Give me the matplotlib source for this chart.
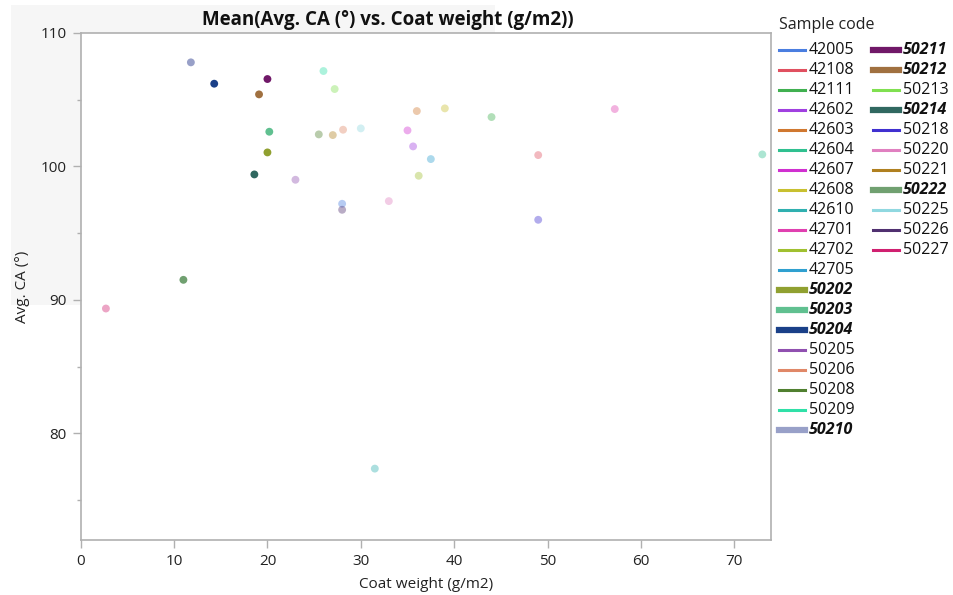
import matplotlib
matplotlib.use("Agg")
import matplotlib.pyplot as plt
from matplotlib.lines import Line2D
from matplotlib.patches import Rectangle
from matplotlib.ticker import MultipleLocator

plt.rcParams['font.family'] = ['Open Sans', 'DejaVu Sans']

# data: sample codes, coat weight (x), mean avg. CA (y)
codes = ["42005", "42108", "42111", "42602", "42603", "42604", "42607", "42608",
         "42610", "42701", "42702", "42705", "50202", "50203", "50204", "50205",
         "50206", "50208", "50209", "50210", "50211", "50212", "50213", "50214",
         "50218", "50220", "50221", "50222", "50225", "50226", "50227"]
coat_weight = [28.0, 49.0, 44.0, 35.6, 36.0, 73.0, 35.0, 39.0,
               31.5, 57.2, 36.2, 37.5, 20.0, 20.2, 14.3, 23.0,
               28.1, 25.5, 26.0, 11.8, 20.0, 19.1, 27.2, 18.6,
               49.0, 33.0, 27.0, 11.0, 30.0, 28.0, 2.7]
avg_ca = [97.2, 100.85, 103.7, 101.5, 104.15, 100.9, 102.7, 104.35,
          77.35, 104.3, 99.3, 100.55, 101.05, 102.6, 106.2, 99.0,
          102.75, 102.4, 107.15, 107.8, 106.55, 105.4, 105.8, 99.4,
          96.0, 97.4, 102.35, 91.5, 102.85, 96.75, 89.35]
colors = ["#4a7ee0", "#e05060", "#40b050", "#a040e0", "#d07830", "#30c090", "#d030d0", "#c8c030",
          "#30b0b0", "#e040b0", "#a0c030", "#30a0d0", "#90a030", "#60c090", "#1a4088", "#9050b0",
          "#e08868", "#508030", "#30e0a8", "#98a0c8", "#701868", "#a07040", "#80e050", "#306860",
          "#4030d0", "#e080c0", "#b08020", "#70a070", "#90d8e0", "#503070", "#d02070"]
selected = ["50202", "50203", "50204", "50210", "50211", "50212", "50214", "50222"]

W, H = 954, 595
fig = plt.figure(figsize=(W / 100, H / 100), dpi=100)

# light gray header panel behind the plot
fig.patches.append(Rectangle((11 / W, 1 - 305 / H), 484 / W, 300 / H,
                             transform=fig.transFigure, facecolor="#f6f6f6",
                             edgecolor="none", zorder=-1))

ax = fig.add_axes([80.7 / W, 1 - 540 / H, 690 / W, 507 / H])
ax.set_zorder(2)
ax.set_facecolor("white")

for code, x, y, c in zip(codes, coat_weight, avg_ca, colors):
    sel = code in selected
    ax.scatter(x, y, s=32, color=c, alpha=1.0 if sel else 0.4,
               edgecolors="none", zorder=3 if sel else 2)

ax.set_xlim(0, 73.9)
ax.set_ylim(72, 110)
ax.xaxis.set_major_locator(MultipleLocator(10))
ax.yaxis.set_major_locator(MultipleLocator(10))
ax.yaxis.set_minor_locator(MultipleLocator(5))
for s in ax.spines.values():
    s.set_color("#b0b0b0")
    s.set_linewidth(1.2)
ax.tick_params(axis="both", which="major", length=6, width=1, color="#b0b0b0",
               labelsize=11, labelcolor="#222222", pad=4)
ax.tick_params(axis="y", which="minor", length=3, width=1, color="#b0b0b0")

ax.set_xlabel("Coat weight (g/m2)", fontsize=11, color="#222222", labelpad=6)
ax.set_ylabel("Avg. CA (°)", fontsize=11, color="#222222", labelpad=8)

fig.text(388 / W, 1 - 20 / H, "Mean(Avg. CA (°) vs. Coat weight (g/m2))",
         ha="center", va="center", fontsize=13.5, fontweight="bold", color="#111111")

# legend drawn by hand: 20 entries in column one, the rest in column two
fig.text(779 / W, 1 - 25 / H, "Sample code", ha="left", va="center",
         fontsize=11.5, color="#222222")
for i, (code, c) in enumerate(zip(codes, colors)):
    col, row = (0, i) if i < 20 else (1, i - 20)
    x0 = 779 + col * 94
    y = 1 - (50 + row * 20) / H
    sel = code in selected
    fig.add_artist(Line2D([x0 / W, (x0 + 26) / W], [y, y], transform=fig.transFigure,
                          color=c, linewidth=4.5 if sel else 2.2))
    fig.text((x0 + 30) / W, y, code, ha="left", va="center", fontsize=11.5,
             color="#111111", fontweight="bold" if sel else "normal",
             fontstyle="italic" if sel else "normal")

fig.savefig("out.png", dpi=100)
